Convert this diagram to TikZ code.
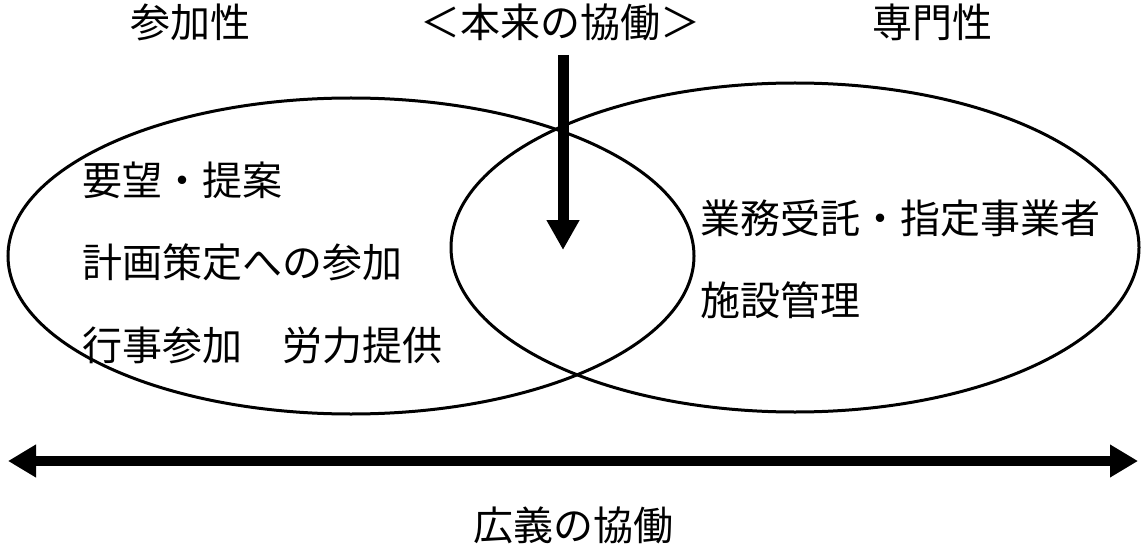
\documentclass[tikz,border=0pt]{standalone}
\usepackage{fontspec}
\newfontfamily\jp{Noto Sans CJK JP}
\usetikzlibrary{arrows.meta,shapes.geometric}
\begin{document}
\begin{tikzpicture}[x=1pt,y=-1pt,
  ell/.style={ellipse,draw=black,line width=3pt,inner sep=0pt,outer sep=0pt},
  lbl/.style={inner sep=0pt,font=\jp\fontsize{40}{48}\selectfont},
  bigarrow/.style={line width=11pt,-{Triangle[length=30pt,width=31pt]}},
  wideline/.style={line width=10pt,{Triangle[length=28pt,width=31pt]}-{Triangle[length=28pt,width=31pt]}}]
\useasboundingbox[fill=white] (0,0) rectangle (1145,548);
% ellipses
\node[ell,minimum width=686pt,minimum height=316pt] (L) at (351,256) {};
\node[ell,minimum width=688pt,minimum height=329pt] (R) at (795,247.5) {};
% headings
\node[lbl] (h1) at (190,22) {参加性};
\node[lbl] (h2) at (560,22) {＜本来の協働＞};
\node[lbl] (h3) at (932,22) {専門性};
% left texts
\node[lbl,anchor=west] (t1) at (82,180) {要望・提案};
\node[lbl,anchor=west] (t2) at (82,262) {計画策定への参加};
\node[lbl,anchor=west] (t3) at (82,345) {行事参加　労力提供};
% right texts
\node[lbl,anchor=west] (t4) at (700,218) {業務受託・指定事業者};
\node[lbl,anchor=west] (t5) at (700,300) {施設管理};
% bottom label
\node[lbl] (b1) at (573,525) {広義の協働};
% arrows
\coordinate (vtop) at (563,55);
\coordinate (vtip) at (563,250);
\draw[bigarrow] (vtop) -- (vtip);
\coordinate (hl) at (8,461);
\coordinate (hr) at (1138,461);
\draw[wideline] (hl) -- (hr);
\end{tikzpicture}
\end{document}
